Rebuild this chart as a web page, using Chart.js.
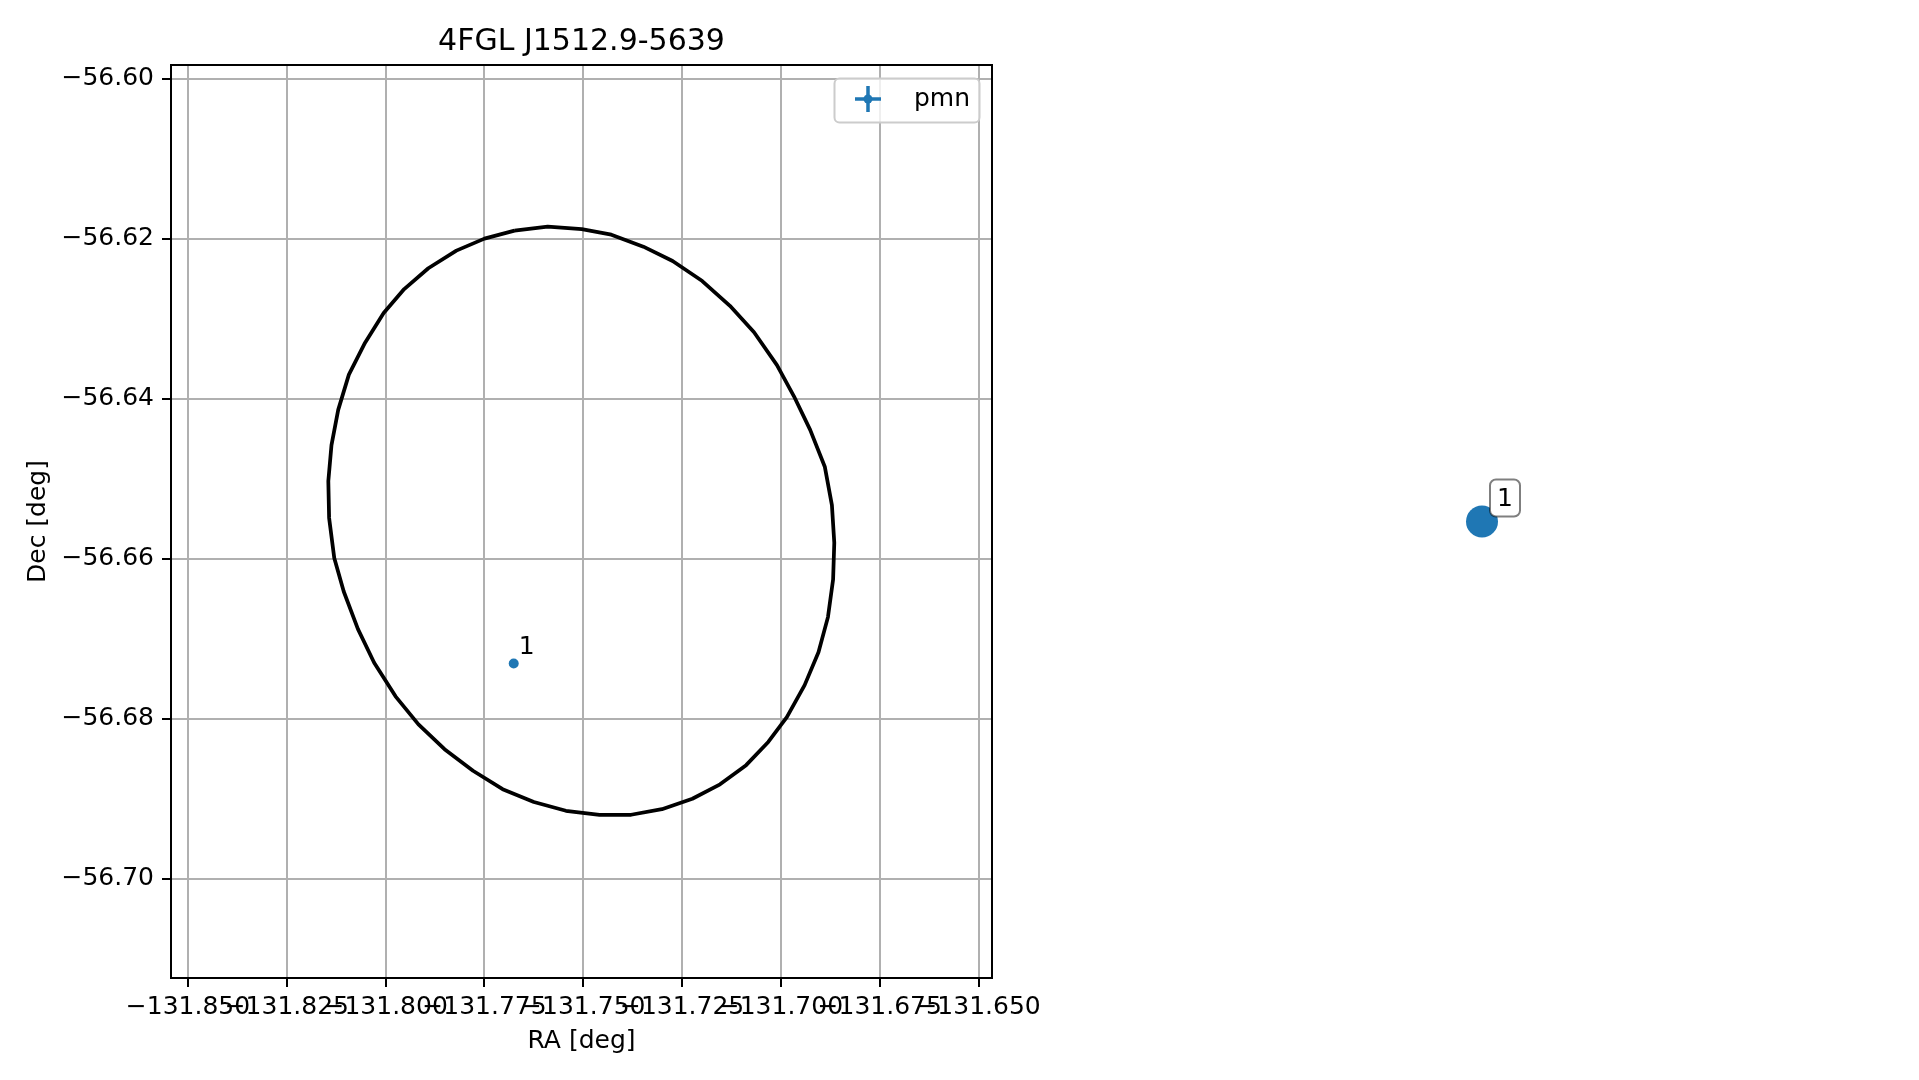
<!DOCTYPE html>
<html>
<head>
<meta charset="utf-8">
<script src="https://cdn.jsdelivr.net/npm/chart.js@4.4.1/dist/chart.umd.min.js"></script>
<style>
    html, body { margin: 0; padding: 0; background: #fff; }
    #wrap { position: relative; width: 1919px; height: 1080px; overflow: hidden; }
    #wrap canvas { position: absolute; top: 0; }
</style>
</head>
<body>
<div id="wrap">
    <canvas id="mainChart" width="1071" height="1080" style="left: 0;"></canvas>
    <canvas id="sideChart" width="848" height="1080" style="left: 1071px;"></canvas>
</div>
<script>
// data
const chartTitle = '4FGL J1512.9-5639';
const xLabel = 'RA [deg]';
const yLabel = 'Dec [deg]';
const legendLabel = 'pmn';

// error ellipse outline (polygon vertices)
const ellipseRA = [
    -131.7674, -131.7590, -131.7504, -131.7429, -131.7348, -131.7274, -131.7199, -131.7129,
    -131.7068, -131.7010, -131.6967, -131.6926, -131.6889, -131.6871, -131.6865, -131.6868,
    -131.6881, -131.6905, -131.6940, -131.6985, -131.7032, -131.7088, -131.7154, -131.7224,
    -131.7301, -131.7379, -131.7459, -131.7544, -131.7625, -131.7704, -131.7779, -131.7851,
    -131.7917, -131.7975, -131.8029, -131.8070, -131.8106, -131.8130, -131.8143, -131.8145,
    -131.8137, -131.8120, -131.8093, -131.8052, -131.8005, -131.7953, -131.7892, -131.7821,
    -131.7750, -131.7674
];
const ellipseDec = [
    -56.6190, -56.6185, -56.6188, -56.6195, -56.6210, -56.6228, -56.6253, -56.6284,
    -56.6317, -56.6358, -56.6397, -56.6439, -56.6485, -56.6533, -56.6580, -56.6626,
    -56.6673, -56.6717, -56.6758, -56.6798, -56.6829, -56.6858, -56.6882, -56.6900,
    -56.6913, -56.6920, -56.6920, -56.6915, -56.6904, -56.6888, -56.6865, -56.6838,
    -56.6807, -56.6772, -56.6730, -56.6688, -56.6641, -56.6599, -56.6549, -56.6503,
    -56.6458, -56.6414, -56.6370, -56.6330, -56.6293, -56.6263, -56.6237, -56.6215,
    -56.6200, -56.6190
];

// pmn source(s)
const srcRA = [-131.7676];
const srcDec = [-56.6731];
const srcLabels = ['1'];

const xTicks = [-131.850, -131.825, -131.800, -131.775, -131.750, -131.725, -131.700, -131.675, -131.650];
const yTicks = [-56.60, -56.62, -56.64, -56.66, -56.68, -56.70];
const xRange = [-131.8543, -131.6466];
const yRange = [-56.7124, -56.5983];

const BLUE = '#1f77b4';
const FONT = '"DejaVu Sans", sans-serif';
const minus = s => s.replace('-', '\u2212');

function roundRect(ctx, x, y, w, h, r) {
    ctx.beginPath();
    ctx.moveTo(x + r, y);
    ctx.lineTo(x + w - r, y);
    ctx.arcTo(x + w, y, x + w, y + r, r);
    ctx.lineTo(x + w, y + h - r);
    ctx.arcTo(x + w, y + h, x + w - r, y + h, r);
    ctx.lineTo(x + r, y + h);
    ctx.arcTo(x, y + h, x, y + h - r, r);
    ctx.lineTo(x, y + r);
    ctx.arcTo(x, y, x + r, y, r);
    ctx.closePath();
}

// frame, labels, legend, titles
const decorPlugin = {
    id: 'decor',
    afterDatasetsDraw(chart) {
        const ctx = chart.ctx;
        const a = chart.chartArea;
        ctx.save();

        // axes frame
        ctx.strokeStyle = '#000';
        ctx.lineWidth = 2;
        ctx.strokeRect(a.left, a.top, a.right - a.left, a.bottom - a.top);

        // source labels
        ctx.fillStyle = '#000';
        ctx.font = '25px ' + FONT;
        ctx.textAlign = 'left';
        ctx.textBaseline = 'alphabetic';
        chart.getDatasetMeta(1).data.forEach((pt, i) => {
            ctx.fillText(srcLabels[i], pt.x + 5, pt.y - 10);
        });

        // legend
        const lx = 834.5, ly = 78.5, lw = 145, lh = 44;
        roundRect(ctx, lx, ly, lw, lh, 5);
        ctx.fillStyle = 'rgba(255,255,255,0.8)';
        ctx.fill();
        ctx.strokeStyle = '#cccccc';
        ctx.lineWidth = 2;
        ctx.stroke();
        const mx = 868, my = 99;
        ctx.strokeStyle = BLUE;
        ctx.lineWidth = 3.5;
        ctx.beginPath();
        ctx.moveTo(mx - 13, my); ctx.lineTo(mx + 13, my);
        ctx.moveTo(mx, my - 13); ctx.lineTo(mx, my + 13);
        ctx.stroke();
        ctx.fillStyle = BLUE;
        ctx.beginPath();
        ctx.arc(mx, my, 4.5, 0, Math.PI * 2);
        ctx.fill();
        ctx.fillStyle = '#000';
        ctx.font = '25px ' + FONT;
        ctx.fillText(legendLabel, 914, 106);

        // title and axis labels
        const cx = (a.left + a.right) / 2;
        ctx.textAlign = 'center';
        ctx.font = '30px ' + FONT;
        ctx.fillText(chartTitle, cx, 50);
        ctx.font = '25px ' + FONT;
        ctx.fillText(xLabel, cx, 1048);
        ctx.translate(45, (a.top + a.bottom) / 2);
        ctx.rotate(-Math.PI / 2);
        ctx.fillText(yLabel, 0, 0);
        ctx.restore();
    }
};

const gridOpts = {
    color: '#b0b0b0',
    lineWidth: 2,
    tickColor: '#000',
    tickWidth: 2,
    tickLength: 9
};

new Chart(document.getElementById('mainChart'), {
    type: 'scatter',
    data: {
        datasets: [
            {
                label: 'ellipse',
                data: ellipseRA.map((ra, i) => ({ x: ra, y: ellipseDec[i] })),
                showLine: true,
                borderColor: '#000',
                borderWidth: 3.75,
                borderJoinStyle: 'round',
                pointRadius: 0,
                tension: 0,
                fill: false
            },
            {
                label: legendLabel,
                data: srcRA.map((ra, i) => ({ x: ra, y: srcDec[i] })),
                backgroundColor: BLUE,
                borderWidth: 0,
                pointRadius: 5
            }
        ]
    },
    options: {
        responsive: false,
        animation: false,
        devicePixelRatio: 1,
        layout: { autoPadding: false, padding: { top: 65, right: 79, bottom: 0, left: 0 } },
        plugins: { legend: { display: false }, tooltip: { enabled: false }, title: { display: false } },
        scales: {
            x: {
                type: 'linear',
                min: xRange[0],
                max: xRange[1],
                afterBuildTicks: s => { s.ticks = xTicks.map(v => ({ value: v })); },
                afterFit: s => { s.height = 102; },
                grid: gridOpts,
                border: { display: true, color: '#000', width: 2 },
                ticks: {
                    autoSkip: false,
                    maxRotation: 0,
                    minRotation: 0,
                    padding: 5,
                    color: '#000',
                    font: { family: FONT, size: 25 },
                    callback: v => minus(v.toFixed(3))
                }
            },
            y: {
                type: 'linear',
                min: yRange[0],
                max: yRange[1],
                afterBuildTicks: s => { s.ticks = yTicks.map(v => ({ value: v })); },
                afterFit: s => { s.width = 171; },
                grid: gridOpts,
                border: { display: true, color: '#000', width: 2 },
                ticks: {
                    padding: 8,
                    color: '#000',
                    font: { family: FONT, size: 25 },
                    callback: v => minus(v.toFixed(2))
                }
            }
        }
    },
    plugins: [decorPlugin]
});

// right panel: the source on its own, axes hidden
const boxPlugin = {
    id: 'srcBox',
    afterDatasetsDraw(chart) {
        const ctx = chart.ctx;
        ctx.save();
        chart.getDatasetMeta(0).data.forEach((pt, i) => {
            roundRect(ctx, pt.x + 8, pt.y - 42, 30, 37, 6);
            ctx.fillStyle = '#fff';
            ctx.fill();
            ctx.strokeStyle = 'rgba(0,0,0,0.5)';
            ctx.lineWidth = 2;
            ctx.stroke();
            ctx.fillStyle = '#000';
            ctx.font = '25px ' + FONT;
            ctx.textAlign = 'left';
            ctx.textBaseline = 'alphabetic';
            ctx.fillText(srcLabels[i], pt.x + 15, pt.y - 16);
        });
        ctx.restore();
    }
};

new Chart(document.getElementById('sideChart'), {
    type: 'scatter',
    data: {
        datasets: [{
            label: legendLabel,
            data: srcRA.map((ra, i) => ({ x: ra, y: srcDec[i] })),
            backgroundColor: BLUE,
            borderWidth: 0,
            pointRadius: 16
        }]
    },
    options: {
        responsive: false,
        animation: false,
        devicePixelRatio: 1,
        layout: { autoPadding: false, padding: { top: 65, right: 26, bottom: 102, left: 0 } },
        plugins: { legend: { display: false }, tooltip: { enabled: false } },
        scales: {
            x: { display: false, min: srcRA[0] - 0.01, max: srcRA[0] + 0.01 },
            y: { display: false, min: srcDec[0] - 0.01, max: srcDec[0] + 0.01 }
        }
    },
    plugins: [boxPlugin]
});
</script>
</body>
</html>
